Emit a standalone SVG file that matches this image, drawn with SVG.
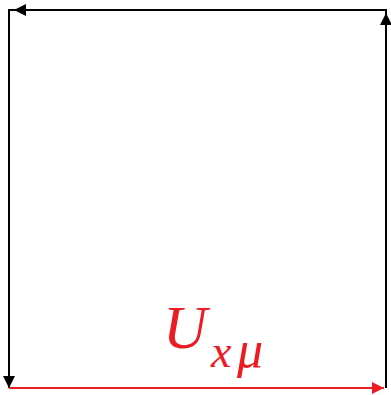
<svg xmlns="http://www.w3.org/2000/svg" width="391" height="395" viewBox="0 0 391 395">
<style>
.edge{fill:none;stroke:#000;stroke-width:2}
.red{stroke:#ed1c24}
.lbl{font-family:"Liberation Serif","DejaVu Serif",serif;font-style:italic;fill:#ed1c24}
</style>
<defs>
<marker id="ah" markerUnits="userSpaceOnUse" markerWidth="13" markerHeight="12" refX="12" refY="6" orient="auto" viewBox="0 0 13 12">
<path d="M0,0 L12,6 L0,12 z" fill="#000"/>
</marker>
<marker id="ahr" markerUnits="userSpaceOnUse" markerWidth="13" markerHeight="12" refX="12" refY="6" orient="auto" viewBox="0 0 13 12">
<path d="M0,0 L12,6 L0,12 z" fill="#ed1c24"/>
</marker>
</defs>
<g id="connectors">
<path class="edge" d="M9,388 L9,10 L386,10 L386,388"/>
<line id="edge-top" class="edge" x1="386" y1="10" x2="14" y2="10" marker-end="url(#ah)"/>
<line id="edge-right" class="edge" x1="386" y1="388" x2="386" y2="13" marker-end="url(#ah)"/>
<line id="edge-left" class="edge" x1="9" y1="10" x2="9" y2="388" marker-end="url(#ah)"/>
<line id="edge-bottom" class="edge red" x1="9" y1="388" x2="384" y2="388" marker-end="url(#ahr)"/>
</g>
<g id="label">
<text class="lbl" x="163" y="348" font-size="61">U</text>
<text class="lbl" x="211" y="367" font-size="46">x</text>
<text class="lbl" x="237" y="367" font-size="52">μ</text>
</g>
</svg>
